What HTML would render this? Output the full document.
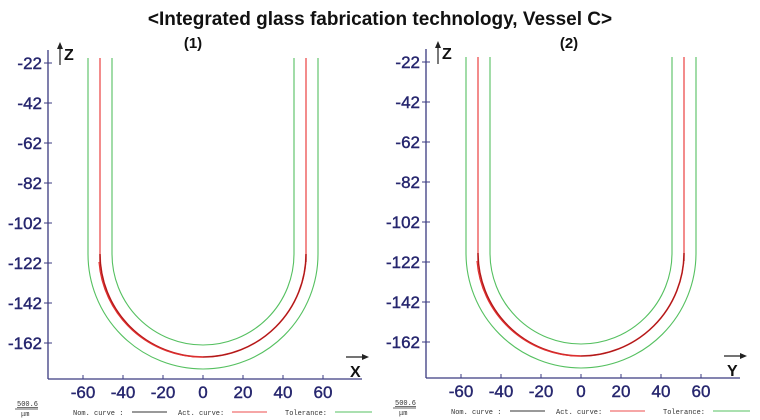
<!DOCTYPE html>
<html><head><meta charset="utf-8"><style>
body{margin:0;background:#fff;}
svg{display:block;font-family:"Liberation Sans",sans-serif;}
</style></head><body>
<svg width="760" height="420" viewBox="0 0 760 420" xmlns="http://www.w3.org/2000/svg">
<text x="380" y="25" text-anchor="middle" font-size="19" font-weight="bold" fill="#111">&lt;Integrated glass fabrication technology, Vessel C&gt;</text>
<text x="193" y="48" text-anchor="middle" font-size="15" font-weight="bold" fill="#111">(1)</text>
<text x="569" y="48" text-anchor="middle" font-size="15" font-weight="bold" fill="#111">(2)</text>

<defs>
<g id="chart">
  <line x1="48" y1="50" x2="48" y2="379" stroke="#3a3a80" stroke-width="1.3"/>
  <line x1="48" y1="379" x2="362" y2="379" stroke="#3a3a80" stroke-width="1.3"/>
  <g stroke="#3a3a80" stroke-width="1">
    <line x1="44" y1="63" x2="52" y2="63"/><line x1="44" y1="103" x2="52" y2="103"/>
    <line x1="44" y1="143" x2="52" y2="143"/><line x1="44" y1="183" x2="52" y2="183"/>
    <line x1="44" y1="223" x2="52" y2="223"/><line x1="44" y1="263" x2="52" y2="263"/>
    <line x1="44" y1="303" x2="52" y2="303"/><line x1="44" y1="343" x2="52" y2="343"/>
    <line x1="83" y1="375" x2="83" y2="379"/><line x1="123" y1="375" x2="123" y2="379"/>
    <line x1="163" y1="375" x2="163" y2="379"/><line x1="203" y1="375" x2="203" y2="379"/>
    <line x1="243" y1="375" x2="243" y2="379"/><line x1="283" y1="375" x2="283" y2="379"/>
    <line x1="323" y1="375" x2="323" y2="379"/>
  </g>
  <g fill="#26266e" font-size="17" text-anchor="end" stroke="#26266e" stroke-width="0.4">
    <text x="42" y="69">-22</text><text x="42" y="109">-42</text>
    <text x="42" y="149">-62</text><text x="42" y="189">-82</text>
    <text x="42" y="229">-102</text><text x="42" y="269">-122</text>
    <text x="42" y="309">-142</text><text x="42" y="349">-162</text>
  </g>
  <g fill="#26266e" font-size="17" text-anchor="middle" stroke="#26266e" stroke-width="0.4">
    <text x="83" y="398">-60</text><text x="123" y="398">-40</text>
    <text x="163" y="398">-20</text><text x="203" y="398">0</text>
    <text x="243" y="398">20</text><text x="283" y="398">40</text>
    <text x="323" y="398">60</text>
  </g>
  <line x1="60" y1="65" x2="60" y2="45" stroke="#222" stroke-width="1.2"/>
  <path d="M57,49 L60,42 L63,49Z" fill="#222"/>
  <text x="64" y="60" font-size="16" font-weight="bold" fill="#111">Z</text>
  <line x1="346" y1="357" x2="366" y2="357" stroke="#222" stroke-width="1.2"/>
  <path d="M362,354 L369,357 L362,360Z" fill="#222"/>
  <path d="M88,58 L88,254 A115,115 0 0 0 318,254 L318,58" fill="none" stroke="#55c060" stroke-width="1.1"/>
  <path d="M112,58 L112,254 A91,91 0 0 0 294,254 L294,58" fill="none" stroke="#55c060" stroke-width="1.1"/>
  <path d="M100,58 L100,254 A103,103 0 0 0 306,254 L306,58" fill="none" stroke="#f07070" stroke-width="1.6"/>
  <path d="M100,262 L100,254 A103,103 0 0 0 306,254 L306,262" fill="none" stroke="#b01818" stroke-width="1.3"/>
  <path d="M99,262 A103,103 0 0 0 203,357" fill="none" stroke="#e03030" stroke-width="1.2"/>
  <g font-family="Liberation Mono,monospace" fill="#333" font-size="7">
    <text x="17" y="406" text-decoration="underline">500.6</text>
    <text x="21" y="416">μm</text>
    <text x="73" y="415">Nom. curve :</text>
    <text x="178" y="415">Act. curve:</text>
    <text x="285" y="415">Tolerance:</text>
  </g>
  <line x1="15" y1="409" x2="38" y2="409" stroke="#333" stroke-width="0.8"/>
  <line x1="132" y1="412" x2="167" y2="412" stroke="#333" stroke-width="1"/>
  <line x1="232" y1="412" x2="267" y2="412" stroke="#f07070" stroke-width="1.2"/>
  <line x1="335" y1="412" x2="372" y2="412" stroke="#55c060" stroke-width="1"/>
</g>
</defs>
<use href="#chart"/>
<text x="350" y="377" font-size="16" font-weight="bold" fill="#111">X</text>
<use href="#chart" transform="translate(378,-1)"/>
<text x="727" y="376" font-size="16" font-weight="bold" fill="#111">Y</text>
</svg>
</body></html>
